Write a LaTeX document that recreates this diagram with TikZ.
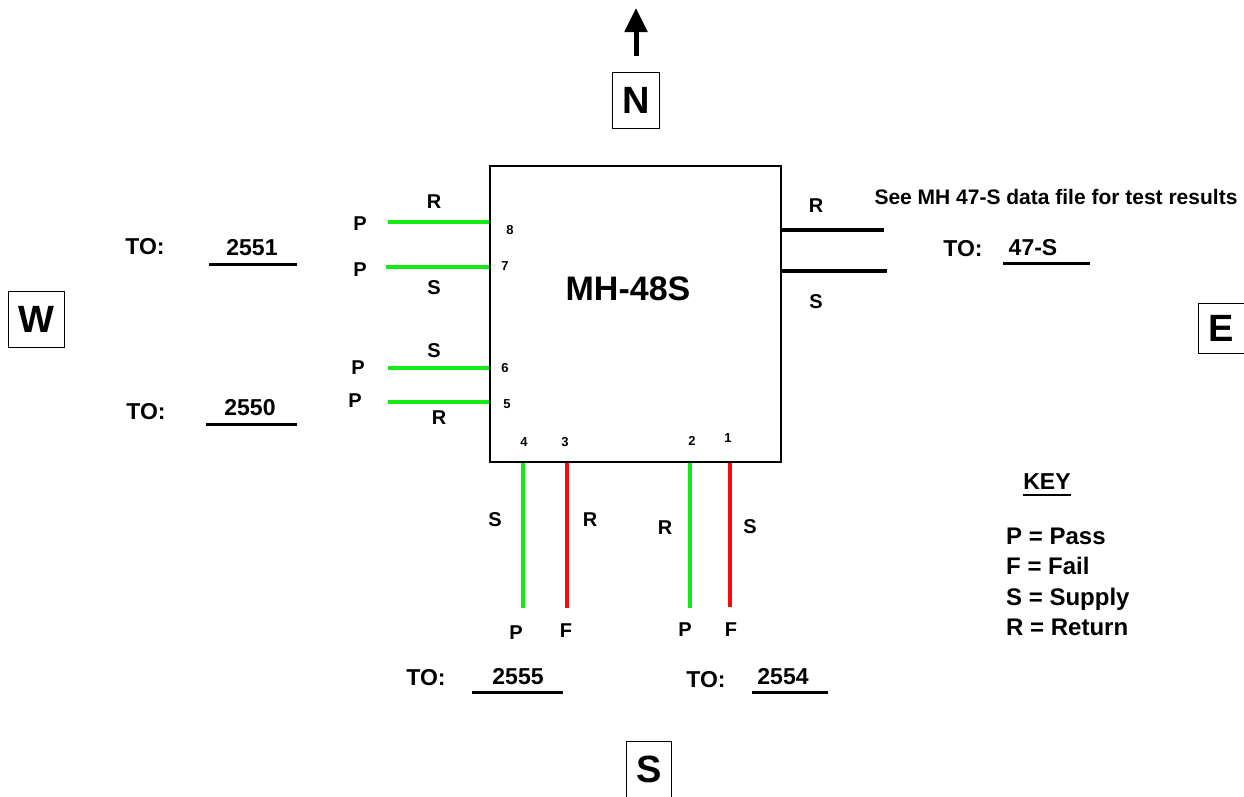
\documentclass[tikz,border=0pt]{standalone}
\usepackage{fontspec}
\setmainfont{Liberation Sans}
\usetikzlibrary{arrows.meta}
\definecolor{wgreen}{RGB}{20,235,20}
\definecolor{wred}{RGB}{250,10,10}
\tikzset{
  lbl/.style={font=\fontsize{20}{24}\selectfont\bfseries, inner sep=0pt},
  numlbl/.style={font=\fontsize{13}{15}\selectfont\bfseries, inner sep=0pt},
  tolbl/.style={font=\fontsize{23}{27}\selectfont\bfseries, inner sep=0pt},
  keylbl/.style={font=\fontsize{24}{28}\selectfont\bfseries, inner sep=0pt, anchor=base west},
  dirbox/.style={draw, line width=1pt, inner sep=0pt, font=\fontsize{38}{40}\selectfont\bfseries},
  gwire/.style={line width=4pt, draw=wgreen},
  rwire/.style={line width=4pt, draw=wred},
  bwire/.style={line width=3.5pt, draw=black},
  uline/.style={line width=3pt, draw=black},
}
\begin{document}
\begin{tikzpicture}[x=1pt,y=-1pt]
\useasboundingbox (0,0) rectangle (1244,796);
% main box
\node[draw, line width=2pt, minimum width=291pt, minimum height=296pt, inner sep=0pt] (box) at (635.5,314) {};
\node[font=\fontsize{34}{37}\selectfont\bfseries, inner sep=0pt] (title) at (628,289) {MH-48S};
% north arrow and compass boxes
\coordinate (arrbase) at (636,56);
\coordinate (arrtip) at (636,8);
\draw[line width=5pt, -{Triangle[width=22pt,length=24pt]}] (arrbase) -- (arrtip);
\node[dirbox, minimum width=47pt, minimum height=56pt] (N) at (636,100) {N};
\node[dirbox, minimum width=56pt, minimum height=56pt] (W) at (36,319) {W};
\node[dirbox, minimum width=46pt, minimum height=50pt] (E) at (1221,328) {E};
\node[dirbox, minimum width=45pt, minimum height=56pt] (Sb) at (649,769) {S};
% west wires
\coordinate (w8) at (388,222);
\coordinate (w7) at (386,267);
\coordinate (w6) at (388,368);
\coordinate (w5) at (388,402);
\draw[gwire] (w8) -- (w8 -| box.west);
\draw[gwire] (w7) -- (w7 -| box.west);
\draw[gwire] (w6) -- (w6 -| box.west);
\draw[gwire] (w5) -- (w5 -| box.west);
\node[lbl] (l8r) at (434,202) {R};
\node[lbl] (l8p) at (360,224) {P};
\node[lbl] (l7p) at (360,270) {P};
\node[lbl] (l7s) at (434,288) {S};
\node[numlbl] (n8) at (510,230) {8};
\node[numlbl] (n7) at (505,266) {7};
\node[lbl] (l6s) at (434,351) {S};
\node[lbl] (l6p) at (358,368) {P};
\node[lbl] (l5p) at (355,401) {P};
\node[numlbl] (n6) at (505,368) {6};
\node[numlbl] (n5) at (507,404) {5};
\node[lbl] (l5r) at (439,418) {R};
% south wires
\coordinate (s4) at (523,608);
\coordinate (s3) at (567,608);
\coordinate (s2) at (690,608);
\coordinate (s1) at (730,607);
\draw[gwire] (s4 |- box.south) -- (s4);
\draw[rwire] (s3 |- box.south) -- (s3);
\draw[gwire] (s2 |- box.south) -- (s2);
\draw[rwire] (s1 |- box.south) -- (s1);
\node[numlbl] (n4) at (524,442) {4};
\node[numlbl] (n3) at (565,442) {3};
\node[numlbl] (n2) at (692,441) {2};
\node[numlbl] (n1) at (728,438) {1};
\node[lbl] (l4s) at (495,520) {S};
\node[lbl] (l3r) at (590,520) {R};
\node[lbl] (l2r) at (665,528) {R};
\node[lbl] (l1s) at (750,527) {S};
\node[lbl] (l4p) at (516,633) {P};
\node[lbl] (l3f) at (566,631) {F};
\node[lbl] (l2p) at (685,630) {P};
\node[lbl] (l1f) at (731,630) {F};
% east wires
\coordinate (e1) at (884,230);
\coordinate (e2) at (887,271);
\draw[bwire] (e1 -| box.east) -- (e1);
\draw[bwire] (e2 -| box.east) -- (e2);
\node[lbl] (ler) at (816,206) {R};
\node[lbl] (les) at (816,302) {S};
\node[font=\fontsize{21}{25}\selectfont\bfseries, inner sep=0pt] (note) at (1056,197) {See MH 47-S data file for test results};
% TO labels
\node[tolbl] (toE) at (963,249) {TO:};
\node[tolbl] (dE) at (1033,248) {47-S};
\coordinate (uEa) at (1003,263); \coordinate (uEb) at (1090,263);
\draw[uline] (uEa) -- (uEb);
\node[tolbl] (toW1) at (145,247) {TO:};
\node[tolbl] (dW1) at (252,248) {2551};
\coordinate (uW1a) at (209,264); \coordinate (uW1b) at (297,264);
\draw[uline] (uW1a) -- (uW1b);
\node[tolbl] (toW2) at (146,412) {TO:};
\node[tolbl] (dW2) at (250,408) {2550};
\coordinate (uW2a) at (206,424); \coordinate (uW2b) at (297,424);
\draw[uline] (uW2a) -- (uW2b);
\node[tolbl] (toS1) at (426,678) {TO:};
\node[tolbl] (dS1) at (518,677) {2555};
\coordinate (uS1a) at (472,692); \coordinate (uS1b) at (563,692);
\draw[uline] (uS1a) -- (uS1b);
\node[tolbl] (toS2) at (706,680) {TO:};
\node[tolbl] (dS2) at (783,677) {2554};
\coordinate (uS2a) at (752,692); \coordinate (uS2b) at (828,692);
\draw[uline] (uS2a) -- (uS2b);
% key
\node[tolbl] (key) at (1047,482) {KEY};
\draw[line width=2.5pt] (key.south west) ++(0,5) coordinate (ka) -- (ka -| key.south east);
\node[keylbl] (k1) at (1006,544) {P = Pass};
\node[keylbl] (k2) at (1006,574) {F = Fail};
\node[keylbl] (k3) at (1006,605) {S = Supply};
\node[keylbl] (k4) at (1006,635) {R = Return};
\end{tikzpicture}
\end{document}
